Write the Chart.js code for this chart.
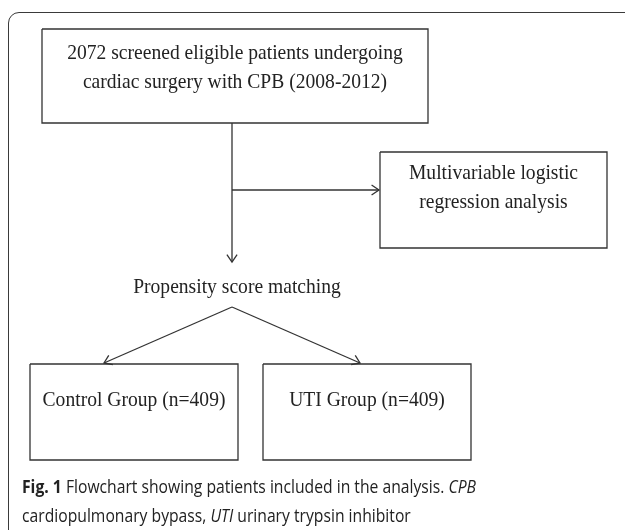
<!DOCTYPE html>
<html>
<head>
<meta charset="utf-8">
<script src="https://cdn.jsdelivr.net/npm/chart.js@4.4.1/dist/chart.umd.min.js"></script>
<style>
  html, body { margin: 0; padding: 0; background: #fff; }
  #wrap { position: relative; width: 625px; height: 530px; overflow: hidden; }
  #frame {
    position: absolute; left: 8px; top: 12px; width: 700px; height: 600px;
    border: 1.5px solid #3a3a3a; border-radius: 11px; box-sizing: border-box;
  }
  #flow { position: absolute; left: 0; top: 0; }
  #caption {
    position: absolute; left: 22px; top: 472px; width: 700px;
    font-family: "Open Sans", sans-serif; font-size: 18px; line-height: 29px; color: #222;
    transform: scaleX(0.872); transform-origin: 0 0; white-space: nowrap;
  }
</style>
</head>
<body>
<div id="wrap">
  <div id="frame"></div>
  <canvas id="flow" width="625" height="530"></canvas>
  <div id="caption"><b>Fig. 1</b> Flowchart showing patients included in the analysis. <i>CPB</i><br>cardiopulmonary bypass, <i>UTI</i> urinary trypsin inhibitor</div>
</div>
<script>
// boxes of the flowchart
var boxText = [
  ["2072 screened eligible patients undergoing", "cardiac surgery with CPB (2008-2012)"],
  ["Multivariable logistic", "regression analysis"],
  ["Control Group (n=409)"],
  ["UTI Group (n=409)"]
];
var boxLeft   = [42, 380, 30, 263];
var boxRight  = [428, 607, 238, 471];
var boxTop    = [29, 152, 364, 364];
var boxBottom = [123, 248, 460, 460];
var textTop   = [53, 173, 400, 400];

// free label
var freeText = ["Propensity score matching"];
var freeX = [237];
var freeY = [287];

// connectors, last point gets an arrow head
var links = [
  [{x: 232, y: 123}, {x: 232, y: 262}],
  [{x: 232, y: 190}, {x: 379, y: 190}],
  [{x: 232, y: 307}, {x: 104, y: 363}],
  [{x: 232, y: 307}, {x: 360, y: 363}]
];
var linkArrow = [true, true, true, true];

var datasets = [];
boxText.forEach(function(t, i) {
  datasets.push({
    data: [
      {x: boxLeft[i], y: boxTop[i]}, {x: boxRight[i], y: boxTop[i]},
      {x: boxRight[i], y: boxBottom[i]}, {x: boxLeft[i], y: boxBottom[i]},
      {x: boxLeft[i], y: boxTop[i]}
    ],
    showLine: true, borderColor: "#333", borderWidth: 1.3, pointRadius: 0, tension: 0
  });
});
links.forEach(function(l) {
  datasets.push({ data: l, showLine: true, borderColor: "#333", borderWidth: 1.3, pointRadius: 0, tension: 0 });
});

// the source figure is squeezed horizontally
var squeeze = 0.89;

var flowText = {
  id: 'flowText',
  afterDatasetsDraw: function(chart) {
    var ctx = chart.ctx, xs = chart.scales.x, ys = chart.scales.y;
    ctx.save();
    ctx.fillStyle = "#222";
    ctx.font = "22px 'Liberation Serif', 'Times New Roman', serif";
    ctx.textAlign = "center";
    ctx.textBaseline = "middle";
    function put(s, x, y) {
      ctx.save();
      ctx.translate(x, y);
      ctx.scale(squeeze, 1);
      ctx.fillText(s, 0, 0);
      ctx.restore();
    }
    boxText.forEach(function(lines, i) {
      var cx = xs.getPixelForValue((boxLeft[i] + boxRight[i]) / 2);
      lines.forEach(function(s, j) {
        put(s, cx, ys.getPixelForValue(textTop[i] + j * 29));
      });
    });
    freeText.forEach(function(s, i) {
      put(s, xs.getPixelForValue(freeX[i]), ys.getPixelForValue(freeY[i]));
    });
    // arrow heads
    ctx.strokeStyle = "#333";
    ctx.lineWidth = 1.3;
    links.forEach(function(l, i) {
      if (!linkArrow[i]) return;
      var a = l[l.length - 2], b = l[l.length - 1];
      var x1 = xs.getPixelForValue(a.x), y1 = ys.getPixelForValue(a.y);
      var x2 = xs.getPixelForValue(b.x), y2 = ys.getPixelForValue(b.y);
      var ang = Math.atan2(y2 - y1, x2 - x1), len = 9, spread = 0.6;
      ctx.beginPath();
      ctx.moveTo(x2 - len * Math.cos(ang - spread), y2 - len * Math.sin(ang - spread));
      ctx.lineTo(x2, y2);
      ctx.lineTo(x2 - len * Math.cos(ang + spread), y2 - len * Math.sin(ang + spread));
      ctx.stroke();
    });
    ctx.restore();
  }
};

new Chart(document.getElementById('flow'), {
  type: 'scatter',
  data: { datasets: datasets },
  options: {
    responsive: false,
    animation: false,
    layout: { padding: 0 },
    plugins: { legend: { display: false }, tooltip: { enabled: false } },
    scales: {
      x: { type: 'linear', min: 0, max: 625, display: false },
      y: { type: 'linear', min: 0, max: 530, reverse: true, display: false }
    }
  },
  plugins: [flowText]
});
</script>
</body>
</html>
